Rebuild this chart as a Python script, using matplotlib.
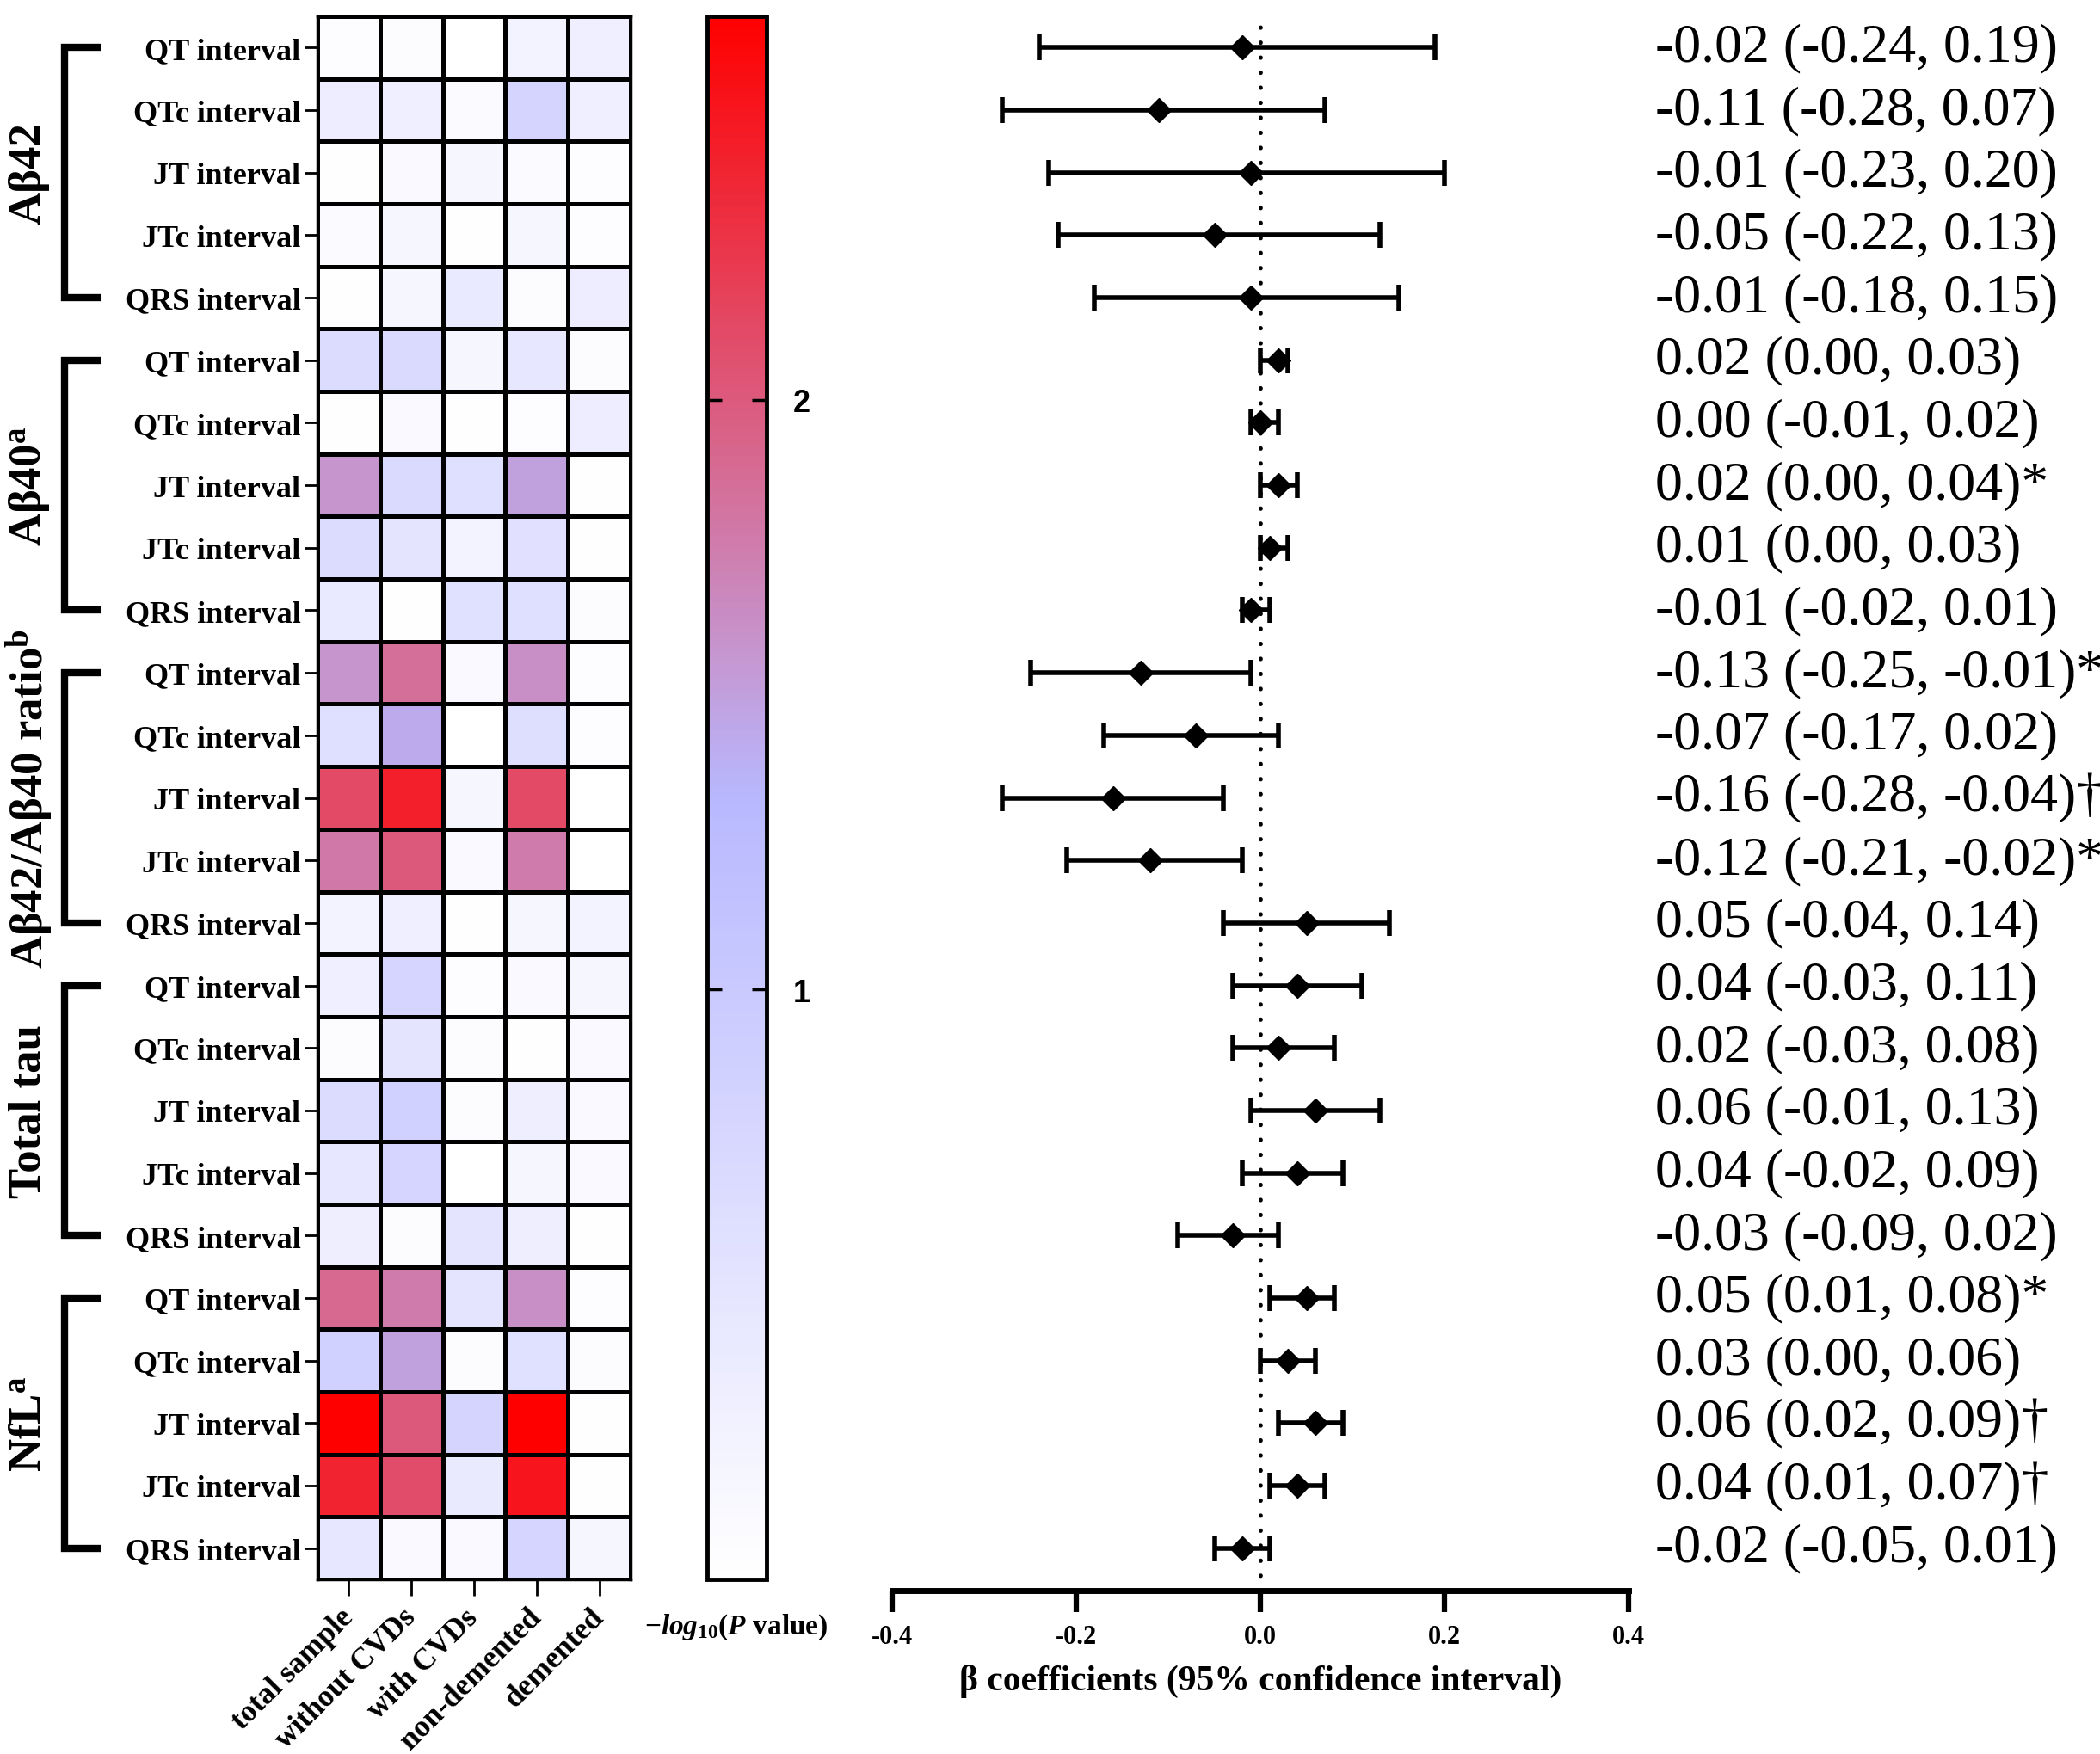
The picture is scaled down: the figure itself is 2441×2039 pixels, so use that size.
import matplotlib
matplotlib.use("Agg")
import matplotlib.pyplot as plt
import numpy as np
from matplotlib.colors import LinearSegmentedColormap
from matplotlib.lines import Line2D
import matplotlib.transforms as mtransforms

plt.rcParams['font.family'] = ['Liberation Serif', 'DejaVu Serif']
plt.rcParams['font.weight'] = 'bold'
plt.rcParams['axes.unicode_minus'] = False
plt.rcParams['mathtext.fontset'] = 'custom'
plt.rcParams['mathtext.rm'] = 'Liberation Serif:bold'
plt.rcParams['mathtext.it'] = 'Liberation Serif:italic:bold'
plt.rcParams['mathtext.bf'] = 'Liberation Serif:bold'

# ---------------- data ----------------
groups = ["Aβ42", "Aβ40$^{\\mathrm{a}}$", "Aβ42/Aβ40 ratio$^{\\mathrm{b}}$", "Total tau", "NfL$^{\\mathrm{a}}$"]
intervals = ["QT interval", "QTc interval", "JT interval", "JTc interval", "QRS interval"]
subgroups = ["total sample", "without CVDs", "with CVDs", "non-demented", "demented"]

# -log10(P value), rows = intervals, cols = subgroups
abeta42_vals = [[0.05, 0.07, 0.00, 0.22, 0.30],
                [0.35, 0.30, 0.10, 0.80, 0.30],
                [0.03, 0.12, 0.17, 0.08, 0.05],
                [0.10, 0.17, 0.02, 0.17, 0.05],
                [0.03, 0.17, 0.42, 0.07, 0.35]]
abeta40_vals = [[0.65, 0.70, 0.17, 0.45, 0.07],
                [0.02, 0.12, 0.03, 0.05, 0.35],
                [1.58, 0.70, 0.60, 1.50, 0.02],
                [0.65, 0.50, 0.23, 0.55, 0.03],
                [0.42, 0.03, 0.58, 0.60, 0.07]]
ratio_vals   = [[1.58, 1.85, 0.12, 1.62, 0.05],
                [0.60, 1.42, 0.00, 0.62, 0.05],
                [2.12, 2.42, 0.17, 2.12, 0.00],
                [1.78, 2.00, 0.12, 1.75, 0.00],
                [0.22, 0.30, 0.03, 0.17, 0.22]]
tau_vals     = [[0.30, 0.78, 0.05, 0.12, 0.17],
                [0.07, 0.50, 0.07, 0.03, 0.12],
                [0.65, 0.85, 0.07, 0.33, 0.12],
                [0.45, 0.78, 0.00, 0.17, 0.12],
                [0.33, 0.07, 0.50, 0.33, 0.03]]
nfl_vals     = [[1.90, 1.75, 0.50, 1.62, 0.05],
                [0.85, 1.50, 0.07, 0.58, 0.07],
                [2.65, 2.00, 0.80, 2.65, 0.02],
                [2.40, 2.10, 0.40, 2.50, 0.02],
                [0.45, 0.12, 0.12, 0.78, 0.17]]

beta    = [-0.02, -0.11, -0.01, -0.05, -0.01,
           0.02, 0.00, 0.02, 0.01, -0.01,
           -0.13, -0.07, -0.16, -0.12, 0.05,
           0.04, 0.02, 0.06, 0.04, -0.03,
           0.05, 0.03, 0.06, 0.04, -0.02]
ci_low  = [-0.24, -0.28, -0.23, -0.22, -0.18,
           0.00, -0.01, 0.00, 0.00, -0.02,
           -0.25, -0.17, -0.28, -0.21, -0.04,
           -0.03, -0.03, -0.01, -0.02, -0.09,
           0.01, 0.00, 0.02, 0.01, -0.05]
ci_high = [0.19, 0.07, 0.20, 0.13, 0.15,
           0.03, 0.02, 0.04, 0.03, 0.01,
           -0.01, 0.02, -0.04, -0.02, 0.14,
           0.11, 0.08, 0.13, 0.09, 0.02,
           0.08, 0.06, 0.09, 0.07, 0.01]
sig     = ["", "", "", "", "",
           "", "", "*", "", "",
           "*", "", "†", "*", "",
           "", "", "", "", "",
           "*", "", "†", "†", ""]

x_ticks = [-0.4, -0.2, 0.0, 0.2, 0.4]
cbar_ticks = [1, 2]

# ---------------- figure ----------------
W, H = 2441, 2040
fig = plt.figure(figsize=(W / 100, H / 100), dpi=100)

top_px, bot_px = 20, 1837
ax_h = fig.add_axes([369 / W, 1 - bot_px / H, 364 / W, (bot_px - top_px) / H])
cax = fig.add_axes([822 / W, 1 - bot_px / H, 69 / W, (bot_px - top_px) / H])
f_bot = 1850
ax_f = fig.add_axes([1037 / W, 1 - f_bot / H, 856 / W, (f_bot - top_px) / H])

heat = np.array(abeta42_vals + abeta40_vals + ratio_vals + tau_vals + nfl_vals)
n_rows, n_cols = heat.shape

cmap = LinearSegmentedColormap.from_list(
    "wbr", [(0.0, "#ffffff"), (0.5, "#b8b8ff"), (1.0, "#ff0000")])
mesh = ax_h.pcolormesh(np.arange(n_cols + 1), np.arange(n_rows + 1), heat,
                       cmap=cmap, vmin=0, vmax=2.65,
                       edgecolors="black", linewidth=2.2)
ax_h.set_xlim(0, n_cols)
ax_h.set_ylim(n_rows, 0)
for s in ax_h.spines.values():
    s.set_linewidth(2.5)
ax_h.set_yticks(np.arange(n_rows) + 0.5)
ax_h.set_yticklabels(intervals * len(groups), fontsize=26, fontweight='bold')
ax_h.set_xticks(np.arange(n_cols) + 0.5)
ax_h.set_xticklabels(subgroups, fontsize=25.5, fontweight='bold',
                     rotation=45, ha='right', va='center', rotation_mode='anchor')
ax_h.tick_params(axis='y', length=11, width=2, pad=3)
ax_h.tick_params(axis='x', length=14, width=2, pad=14)

# group brackets and labels
tr = mtransforms.blended_transform_factory(fig.transFigure, ax_h.transData)
for gi, g in enumerate(groups):
    y0 = gi * 5 + 0.5
    y1 = gi * 5 + 4.5
    xv, xh = 75 / W, 117 / W
    ln = Line2D([xh, xv, xv, xh], [y0, y0, y1, y1], transform=tr,
                color='black', lw=6, solid_joinstyle='miter', solid_capstyle='butt')
    fig.add_artist(ln)
    fig.text(34 / W, gi * 5 + 2.5, g, transform=tr, rotation=90,
             ha='center', va='center', fontsize=38, fontweight='bold')

# colorbar
cb = fig.colorbar(mesh, cax=cax, ticks=cbar_ticks)
cb.outline.set_linewidth(3.5)
cax.minorticks_off()
cax.tick_params(which='both', direction='in', left=True, right=True,
                length=12, width=2.5, pad=22)
cax.set_yticklabels([str(t) for t in cbar_ticks], fontfamily='Liberation Sans',
                    fontsize=26, fontweight='bold')
fig.text(856 / W, 1 - 1892 / H, r"$\mathit{-log}_{\mathit{10}}\mathit{(P}$ value)",
         ha='center', va='center', fontsize=24, fontweight='bold')

# forest plot
ypos = np.arange(n_rows)
b = np.array(beta)
lo = np.array(ci_low)
hi = np.array(ci_high)
ax_f.axvline(0, color='black', lw=3.4, ls=(0, (0.1, 3.6)), dash_capstyle='round', zorder=1)
ax_f.errorbar(b, ypos, xerr=[b - lo, hi - b], fmt='D', color='black', ms=14,
              elinewidth=4, capsize=11, capthick=4, zorder=3)
ax_f.set_xlim(-0.4, 0.4)
ax_f.set_ylim(n_rows - 0.5 + (f_bot - bot_px) / ((bot_px - top_px) / n_rows), -0.5)
for side in ['top', 'right', 'left']:
    ax_f.spines[side].set_visible(False)
ax_f.spines['bottom'].set_linewidth(5)
ax_f.set_yticks([])
ax_f.set_xticks(x_ticks)
ax_f.set_xticklabels([f"{t:.1f}" for t in x_ticks], fontsize=22, fontweight='bold')
ax_f.tick_params(axis='x', length=18, width=4.5, pad=10)
ax_f.set_xlabel("β coefficients (95% confidence interval)", fontsize=30,
                fontweight='bold', labelpad=12)

# right-side text
tr_f = mtransforms.blended_transform_factory(fig.transFigure, ax_f.transData)
for i in range(n_rows):
    s = f"{beta[i]:.2f} ({ci_low[i]:.2f}, {ci_high[i]:.2f}){sig[i]}"
    fig.text(1924 / W, ypos[i], s, transform=tr_f, ha='left', va='center',
             fontsize=46, fontweight='normal')

fig.savefig("out.png", dpi=100)
